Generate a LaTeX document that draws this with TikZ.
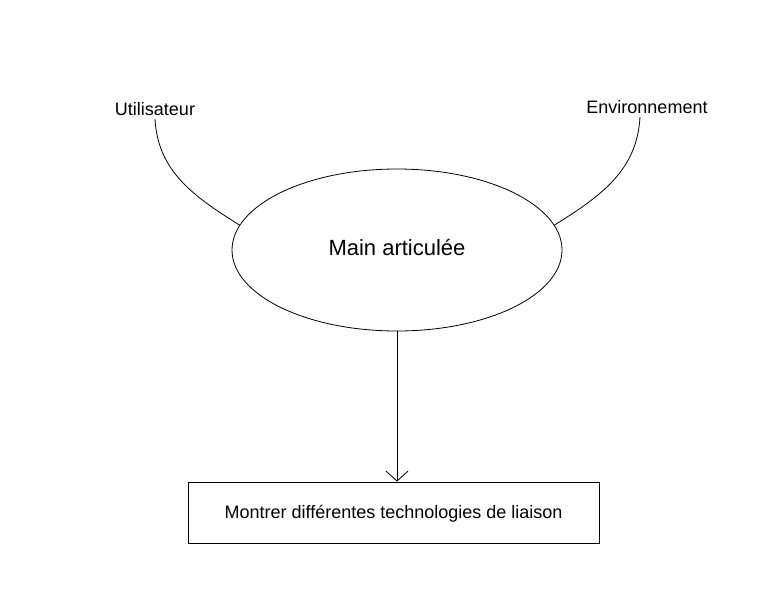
\documentclass[tikz,border=0pt]{standalone}
\usepackage{fontspec}
\setmainfont{Liberation Sans}
\usetikzlibrary{shapes.geometric,arrows.meta}
\begin{document}
\begin{tikzpicture}[x=1pt,y=-1pt,>={Straight Barb[length=10pt,width=22pt]}, line width=0.8pt, line join=round, line cap=round,
	lbl/.style={font=\fontsize{18}{22}\selectfont, anchor=base},
	bigfont/.style={font=\fontsize{22}{26}\selectfont}]
	\useasboundingbox (0,0) rectangle (782,600);
	% acteurs
	\node[lbl] (user) at (155,115) {Utilisateur};
	\node[lbl] (env) at (647,113) {Environnement};
	\node[ellipse, draw, bigfont, minimum width=330pt, minimum height=162pt, inner sep=0pt, text height=1em, text depth=0pt] (main) at (397,250) {Main articulée};
	\node[draw, lbl, anchor=center, minimum width=411pt, minimum height=61pt, text height=1.3em, text depth=0.2em] (tech) at (393.5,512.5) {Montrer différentes technologies de liaison};
	\draw (user.south) to[out=-87,in=148] (main.171);
	\draw ([xshift=-7pt]env.south) to[out=-93,in=32] (main.9);
	\draw[->] (main.south) -- (main.south |- tech.north);
\end{tikzpicture}
\end{document}
